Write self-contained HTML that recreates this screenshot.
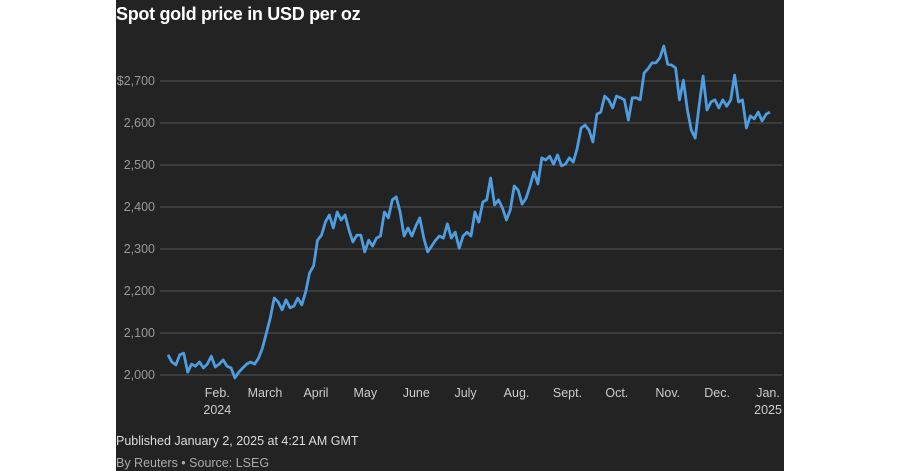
<!DOCTYPE html>
<html><head><meta charset="utf-8"><style>
body{margin:0;background:#fff;width:900px;height:471px;overflow:hidden;font-family:"Liberation Sans",sans-serif}
#panel{position:absolute;left:116px;top:0;width:668px;height:471px;background:#232323}
.t{position:absolute;white-space:nowrap}
</style></head><body>
<div id="panel"></div>
<div class="t" style="left:116px;top:4px;font-size:18px;font-weight:bold;color:#fff;letter-spacing:-0.3px">Spot gold price in USD per oz</div>
<svg id="c" width="900" height="471" style="position:absolute;left:0;top:0"></svg>
<div class="t" style="left:116px;top:434px;font-size:12.5px;color:#ddd">Published January 2, 2025 at 4:21 AM GMT</div>
<div class="t" style="left:116px;top:456px;font-size:12.5px;color:#aaa">By Reuters • Source: LSEG</div>
<script>
const yTicks=[2000,2100,2200,2300,2400,2500,2600,2700];
const yTickLabels=["2,000","2,100","2,200","2,300","2,400","2,500","2,600","$2,700"];
const monthLabels=["Feb.","March","April","May","June","July","Aug.","Sept.","Oct.","Nov.","Dec.","Jan."];
const monthDays=[30,59,90,120,151,181,212,243,273,304,334,365];
const yearLabels=[["2024",30],["2025",365]];
const prices=[2048,2031,2024,2048,2052,2007,2026,2021,2031,2017,2026,2045,2019,2026,2036,2021,2017,1993,2007,2017,2026,2031,2026,2040,2064,2100,2136,2183,2174,2155,2179,2160,2164,2183,2167,2198,2243,2260,2321,2333,2364,2381,2350,2388,2369,2381,2345,2317,2333,2333,2293,2321,2307,2326,2331,2388,2374,2417,2424,2388,2331,2350,2331,2355,2374,2326,2293,2307,2321,2331,2326,2360,2326,2340,2302,2331,2340,2331,2388,2364,2412,2417,2469,2405,2417,2398,2369,2393,2450,2440,2407,2421,2450,2483,2455,2517,2512,2521,2502,2524,2498,2502,2517,2507,2540,2588,2595,2583,2555,2621,2626,2664,2655,2636,2664,2660,2655,2607,2660,2660,2655,2719,2729,2743,2743,2755,2783,2740,2738,2731,2655,2702,2631,2583,2564,2643,2712,2631,2650,2655,2636,2655,2640,2655,2714,2650,2655,2588,2617,2610,2626,2605,2621,2626];
const svg=document.getElementById('c'),NS='http://www.w3.org/2000/svg';
const y=v=>375-(v-2000)*0.42;
const xd=d=>168+d*1.644;
const xi=i=>168+i*(602/(prices.length-1));
function mk(t,a){const e=document.createElementNS(NS,t);for(const k in a)e.setAttribute(k,a[k]);svg.appendChild(e);return e;}
yTicks.forEach((v,i)=>{
 const l=mk('line',{x1:160,x2:782,y1:y(v),y2:y(v),stroke:'#555','stroke-width':1});
 
 
 const t=mk('text',{x:155,y:y(v)+4,'text-anchor':'end',fill:'#999','font-size':12.5,'font-family':'Liberation Sans, sans-serif'});
 t.textContent=yTickLabels[i];
 
 
});
monthLabels.forEach((m,i)=>{
 const t=mk('text',{x:xd(monthDays[i]),y:397,'text-anchor':'middle',fill:'#ccc','font-size':12.5,'font-family':'Liberation Sans, sans-serif'});
 t.textContent=m;
 
 
});
yearLabels.forEach(([yr,d])=>{
 const t=mk('text',{x:xd(d),y:414,'text-anchor':'middle',fill:'#ccc','font-size':12.5,'font-family':'Liberation Sans, sans-serif'});
 t.textContent=yr;
 
 
});
const p=mk('path',{d:prices.map((v,i)=>(i?'L':'M')+xi(i).toFixed(1)+','+y(v).toFixed(1)).join(''),fill:'none',stroke:'#4d9de0','stroke-width':2.8,'stroke-linejoin':'round'});


</script>
</body></html>
